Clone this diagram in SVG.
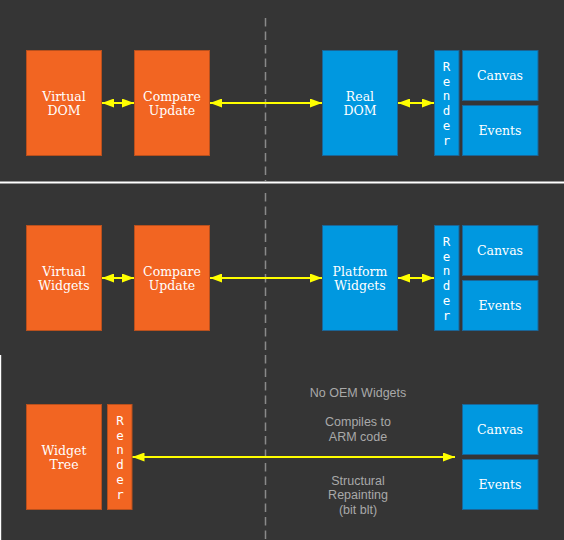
<svg xmlns="http://www.w3.org/2000/svg" width="564" height="540" viewBox="0 0 564 540">
  <style>
    .bg { fill: #353535; }
    .or { fill: #f26522; stroke: #b9501d; stroke-width: 1; }
    .bl { fill: #0098e0; stroke: #1b6596; stroke-width: 1; }
    .lbl { font-family: "DejaVu Serif", "Liberation Serif", serif; font-size: 12.5px; fill: #ffffff; text-anchor: middle; }
    .vert { font-family: "DejaVu Sans Mono", "Liberation Mono", monospace; font-size: 12.5px; fill: #ffffff; text-anchor: middle; }
    .note { font-family: "Liberation Sans", "Noto Sans", sans-serif; font-size: 12.5px; fill: #a9a9a9; text-anchor: middle; }
    .arr { stroke: #ffff00; stroke-width: 2; fill: none; marker-start: url(#ah); marker-end: url(#ah); }
  </style>
  <defs>
    <marker id="ah" markerUnits="userSpaceOnUse" markerWidth="12" markerHeight="9" refX="12" refY="4.5" orient="auto-start-reverse">
      <path d="M0,0 L12,4.5 L0,9 z" fill="#ffff00"/>
    </marker>
  </defs>

  <rect class="bg" x="0" y="0" width="564" height="540"/>
  <rect x="0" y="181.5" width="564" height="2" fill="#ffffff"/>
  <rect x="0" y="355" width="1.2" height="185" fill="#ffffff"/>

  <g id="divider">
    <line x1="265.5" y1="18" x2="265.5" y2="181" stroke="#8a8a8a" stroke-width="1.5" stroke-dasharray="8.5 5"/>
    <line x1="265.5" y1="193" x2="265.5" y2="540" stroke="#8a8a8a" stroke-width="1.5" stroke-dasharray="8.5 5"/>
  </g>

  <!-- Panel 1 -->
  <g id="virtual-dom">
    <rect class="or" x="26.5" y="50.5" width="75" height="105"/>
    <text class="lbl" x="64" y="101">Virtual</text>
    <text class="lbl" x="64" y="115">DOM</text>
  </g>
  <g id="compare-update-1">
    <rect class="or" x="134.5" y="50.5" width="75" height="105"/>
    <text class="lbl" x="172" y="101">Compare</text>
    <text class="lbl" x="172" y="115">Update</text>
  </g>
  <g id="real-dom">
    <rect class="bl" x="322.5" y="50.5" width="75" height="105"/>
    <text class="lbl" x="360" y="101">Real</text>
    <text class="lbl" x="360" y="115">DOM</text>
  </g>
  <g id="render-1">
    <rect class="bl" x="434.5" y="50.5" width="24.5" height="105"/>
    <text class="vert" x="446.5" y="71">R</text>
    <text class="vert" x="446.5" y="85.7">e</text>
    <text class="vert" x="446.5" y="100.4">n</text>
    <text class="vert" x="446.5" y="115.1">d</text>
    <text class="vert" x="446.5" y="129.8">e</text>
    <text class="vert" x="446.5" y="144.5">r</text>
  </g>
  <g id="canvas-1">
    <rect class="bl" x="462.5" y="50.5" width="75.5" height="50"/>
    <text class="lbl" x="500" y="80">Canvas</text>
  </g>
  <g id="events-1">
    <rect class="bl" x="462.5" y="105.5" width="75.5" height="50"/>
    <text class="lbl" x="500" y="135">Events</text>
  </g>

  <!-- Panel 2 -->
  <g id="virtual-widgets">
    <rect class="or" x="26.5" y="225.5" width="75" height="105"/>
    <text class="lbl" x="64" y="276">Virtual</text>
    <text class="lbl" x="64" y="290">Widgets</text>
  </g>
  <g id="compare-update-2">
    <rect class="or" x="134.5" y="225.5" width="75" height="105"/>
    <text class="lbl" x="172" y="276">Compare</text>
    <text class="lbl" x="172" y="290">Update</text>
  </g>
  <g id="platform-widgets">
    <rect class="bl" x="322.5" y="225.5" width="75" height="105"/>
    <text class="lbl" x="360" y="276">Platform</text>
    <text class="lbl" x="360" y="290">Widgets</text>
  </g>
  <g id="render-2">
    <rect class="bl" x="434.5" y="225.5" width="24.5" height="105"/>
    <text class="vert" x="446.5" y="246">R</text>
    <text class="vert" x="446.5" y="260.7">e</text>
    <text class="vert" x="446.5" y="275.4">n</text>
    <text class="vert" x="446.5" y="290.1">d</text>
    <text class="vert" x="446.5" y="304.8">e</text>
    <text class="vert" x="446.5" y="319.5">r</text>
  </g>
  <g id="canvas-2">
    <rect class="bl" x="462.5" y="225.5" width="75.5" height="50"/>
    <text class="lbl" x="500" y="255">Canvas</text>
  </g>
  <g id="events-2">
    <rect class="bl" x="462.5" y="280.5" width="75.5" height="50"/>
    <text class="lbl" x="500" y="310">Events</text>
  </g>

  <!-- Panel 3 -->
  <g id="widget-tree">
    <rect class="or" x="26.5" y="404.5" width="75" height="105"/>
    <text class="lbl" x="64" y="455">Widget</text>
    <text class="lbl" x="64" y="469">Tree</text>
  </g>
  <g id="render-3">
    <rect class="or" x="107.5" y="404.5" width="24.5" height="105"/>
    <text class="vert" x="120" y="425">R</text>
    <text class="vert" x="120" y="439.7">e</text>
    <text class="vert" x="120" y="454.4">n</text>
    <text class="vert" x="120" y="469.1">d</text>
    <text class="vert" x="120" y="483.8">e</text>
    <text class="vert" x="120" y="498.5">r</text>
  </g>
  <g id="canvas-3">
    <rect class="bl" x="462.5" y="404.5" width="75.5" height="50"/>
    <text class="lbl" x="500" y="434">Canvas</text>
  </g>
  <g id="events-3">
    <rect class="bl" x="462.5" y="459.5" width="75.5" height="50"/>
    <text class="lbl" x="500" y="489">Events</text>
  </g>
  <g id="notes">
    <text class="note" x="358" y="397">No OEM Widgets</text>
    <text class="note" x="358" y="426">Compiles to</text>
    <text class="note" x="358" y="441">ARM code</text>
    <text class="note" x="358" y="484.5">Structural</text>
    <text class="note" x="358" y="499">Repainting</text>
    <text class="note" x="358" y="513.5">(bit blt)</text>
  </g>

  <g id="connectors">
    <line class="arr" x1="102" y1="103" x2="134" y2="103"/>
    <line class="arr" x1="210" y1="103" x2="322" y2="103"/>
    <line class="arr" x1="398" y1="103" x2="434" y2="103"/>
    <line class="arr" x1="102" y1="278" x2="134" y2="278"/>
    <line class="arr" x1="210" y1="278" x2="322" y2="278"/>
    <line class="arr" x1="398" y1="278" x2="434" y2="278"/>
    <line class="arr" x1="132.5" y1="457" x2="455" y2="457"/>
  </g>
</svg>
